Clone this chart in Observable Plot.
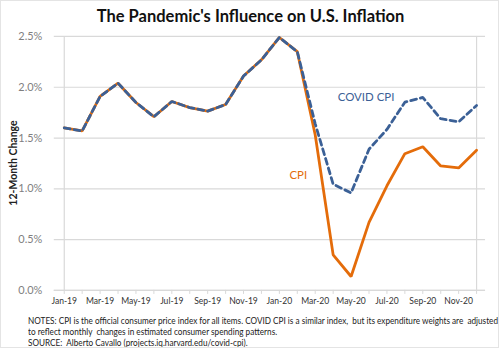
<!DOCTYPE html>
<html>
<head>
<meta charset="utf-8">
<script src="https://cdn.jsdelivr.net/npm/d3@7"></script>
<script src="https://cdn.jsdelivr.net/npm/@observablehq/plot@0.6"></script>
<style>
  html, body { margin: 0; padding: 0; background: #fff; }
  #chart { width: 497px; height: 346px; border: 1px solid #e4e4e4; position: relative; font-family: Lato, "Open Sans", sans-serif; overflow: hidden; }
  #title { position: absolute; left: 0; top: 5px; width: 499px; text-align: center; font-size: 16.5px; font-weight: bold; color: #111; }
  #plot { position: absolute; left: 0; top: 25px; }
  #notes { position: absolute; left: 27px; top: 314px; font-size: 9.2px; line-height: 11px; color: #222; white-space: nowrap; transform-origin: left top; }
  #notes div { display: block; }
  #ylab { position: absolute; left: 12px; top: 162px; transform: translate(-50%,-50%) rotate(-90deg); font-size: 10.5px; font-weight: bold; color: #222; white-space: nowrap; }
</style>
</head>
<body>
<div id="chart">
  <div id="title">The Pandemic's Influence on U.S. Inflation</div>
  <div id="plot"></div>
  <div id="ylab">12-Month Change</div>
  <div id="notes">
    <div><span id="n1">NOTES: CPI is the official consumer price index for all items. COVID CPI is a similar index, &nbsp;but its expenditure weights are &nbsp;adjusted</span></div>
    <div>to reflect monthly &nbsp;changes in estimated consumer spending patterns.</div>
    <div>SOURCE: &nbsp;Alberto Cavallo (projects.iq.harvard.edu/covid-cpi).</div>
  </div>
</div>
<script>
const months = ["Jan-19","Feb-19","Mar-19","Apr-19","May-19","Jun-19","Jul-19","Aug-19","Sep-19","Oct-19","Nov-19","Dec-19",
                "Jan-20","Feb-20","Mar-20","Apr-20","May-20","Jun-20","Jul-20","Aug-20","Sep-20","Oct-20","Nov-20","Dec-20"];
const cpi      = [1.60,1.57,1.91,2.04,1.85,1.71,1.86,1.80,1.765,1.83,2.11,2.27,2.49,2.35,1.53,0.35,0.137,0.67,1.03,1.346,1.415,1.225,1.206,1.38];
const covidCpi = [1.60,1.57,1.91,2.04,1.85,1.71,1.86,1.80,1.765,1.83,2.11,2.27,2.49,2.35,1.64,1.046,0.96,1.39,1.585,1.853,1.90,1.69,1.66,1.82];
const yTicks = [0, 0.5, 1.0, 1.5, 2.0, 2.5];
const covidLabel = [{name: "COVID CPI", month: "Sep-20", value: 1.9}];
const cpiLabel = [{name: "CPI", month: "Apr-20", value: 1.13}];

const rows = (vals) => months.map((m, i) => ({month: m, value: vals[i] / 100}));
const cpiRows = rows(cpi);
const covidRows = rows(covidCpi);
const labelMonthIdx = new Map(months.map((m, i) => [m, i]));

const orange = "#E46C0A";
const blue = "#3B6096";

const plot = Plot.plot({
  width: 499,
  height: 285,
  marginLeft: 53,
  marginRight: 13,
  marginTop: 10,
  marginBottom: 20,
  style: {fontFamily: "Lato, 'Open Sans', sans-serif", background: "transparent", overflow: "visible"},
  x: {type: "point", domain: months, padding: 0},
  y: {domain: [0, 0.025]},
  marks: [
    Plot.gridY(yTicks.map(d => d / 100), {stroke: "#d9d9d9", strokeOpacity: 1, strokeWidth: 1.2}),
    Plot.ruleX([months[0]], {stroke: "#d9d9d9", strokeWidth: 1.2}),
    Plot.ruleX([months[months.length - 1]], {stroke: "#d9d9d9", strokeWidth: 1.2}),
    Plot.ruleY([0], {stroke: "#d9d9d9", strokeWidth: 1.2}),
    Plot.axisY({ticks: yTicks.map(d => d / 100), tickFormat: d3.format(".1%"), tickSize: 0, tickPadding: 12,
      fontSize: 11, color: "#7f7f7f", label: null}),
    Plot.axisX({ticks: months, tickSize: 4, tickPadding: 4, stroke: "#d9d9d9",
      tickFormat: d => labelMonthIdx.get(d) % 2 === 0 ? d : "",
      fontSize: 8.6, color: "#333", label: null}),
    Plot.line(cpiRows, {x: "month", y: "value", stroke: orange, strokeWidth: 2.8, strokeLinejoin: "miter"}),
    Plot.line(covidRows, {x: "month", y: "value", stroke: blue, strokeWidth: 2.8, strokeDasharray: "6,4", strokeLinejoin: "miter"}),
    Plot.text(covidLabel, {x: "month", y: d => d.value / 100, text: "name", fill: blue, fontSize: 11.5, dx: -57}),
    Plot.text(cpiLabel, {x: "month", y: d => d.value / 100, text: "name", fill: orange, fontSize: 11.5, dx: -35})
  ]
});
document.getElementById("plot").appendChild(plot);

// compress the notes horizontally so the first line spans the same width as the original
const notes = document.getElementById("notes");
const w = document.getElementById("n1").getBoundingClientRect().width;
const target = 470;
if (w > target) notes.style.transform = `scaleX(${target / w})`;
</script>
</body>
</html>
